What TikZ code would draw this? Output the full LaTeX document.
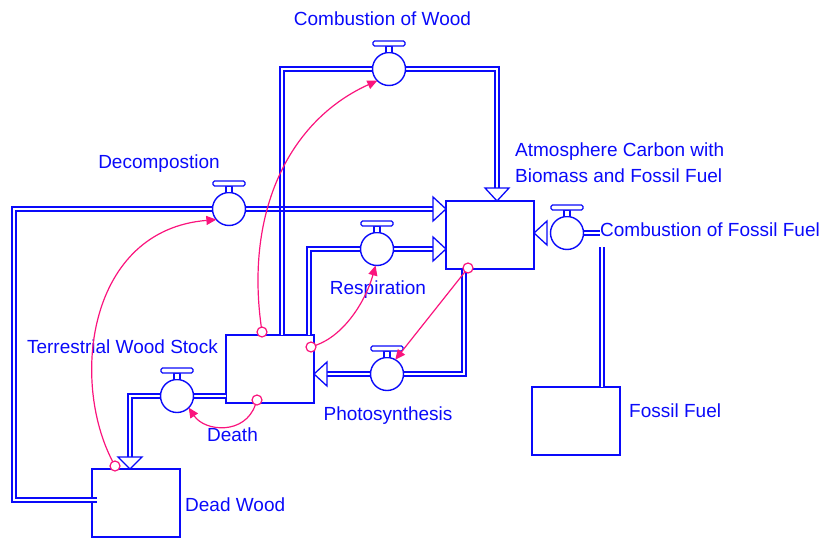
\documentclass[tikz,border=0pt]{standalone}
\usepackage{fontspec}
\setmainfont{Liberation Sans}
\usetikzlibrary{arrows.meta,calc}
\definecolor{vblue}{RGB}{10,10,250}
\definecolor{vpink}{RGB}{250,20,125}
\tikzset{
  stock/.style={draw=vblue, line width=1.6pt, rectangle, minimum width=88pt, minimum height=68pt, inner sep=0pt, outer sep=0pt},
  valvec/.style={draw=vblue, fill=white, line width=1.4pt, circle, minimum size=33pt, inner sep=0pt, outer sep=0pt},
  vpart/.style={draw=vblue, fill=white, line width=1.3pt},
  pipe/.style={draw=vblue, line width=1.6pt, double=white, double distance=2.4pt, line join=miter},
  thinpipe/.style={draw=vblue, line width=1.6pt},
  parrow/.style={draw=vblue, fill=white, line width=1.3pt, line join=miter},
  lbl/.style={text=vblue, font=\fontsize{19}{23}\selectfont, inner sep=0pt},
  info/.style={draw=vpink, line width=1.2pt, -{Triangle[length=10pt,width=9pt]}},
  infostart/.style={draw=vpink, fill=white, line width=1.2pt, circle, minimum size=10pt, inner sep=0pt, outer sep=0pt},
}
\newcommand{\mkvalve}[2]{%
  \node[valvec] (#1) at (#2) {};
  \draw[vpart] ($(#1)+(-3,-16.5)$) rectangle ($(#1)+(3,-23)$);
  \draw[vpart, rounded corners=1.5pt] ($(#1)+(-16,-23)$) rectangle ($(#1)+(16,-28)$);
}
\begin{document}
\begin{tikzpicture}[x=1pt,y=-1pt]
\useasboundingbox (0,0) rectangle (822,538);
% stocks
\node[stock] (tws) at (270,369) {};
\node[stock] (atm) at (490,235) {};
\node[stock] (ff)  at (576,421) {};
\node[stock] (dw)  at (136,503) {};
% helper coordinates
\coordinate (cwL) at (282,69);
\coordinate (cwR) at (497,69);
\coordinate (decL) at (14,209);
\coordinate (decB) at (14,500);
\coordinate (dwIn) at (97,500);
\coordinate (respL) at (309,249);
\coordinate (phR) at (464,374);
\coordinate (deL) at (130,396);
\coordinate (ffTop) at (602,247);
\coordinate (cffStub) at (600,233);
% pipes
\draw[pipe] (cwL |- tws.north) -- (cwL) -- (389,69);
\draw[pipe] (389,69) -- (cwR) -- ($(cwR |- atm.north)+(0,-13)$);
\draw[pipe] (dwIn) -- (decB) -- (decL) -- (229,209);
\draw[pipe] (229,209) -- ($(atm.west |- decL)+(-13,0)$);
\draw[pipe] (respL |- tws.north) -- (respL) -- (377,249);
\draw[pipe] (377,249) -- ($(atm.west |- respL)+(-13,0)$);
\draw[pipe] (phR |- atm.south) -- (phR) -- (387,374);
\draw[pipe] (387,374) -- ($(tws.east |- phR)+(13,0)$);
\draw[pipe] (tws.west |- deL) -- (177,396);
\draw[pipe] (177,396) -- (deL) -- ($(deL |- dw.north)+(0,-12)$);
\draw[pipe] (ffTop |- ff.north) -- (ffTop);
\draw[pipe] (567,233) -- (cffStub);
% crossing of the two pipes
\draw[thinpipe] (280,204) -- (280,214) (284,204) -- (284,214);
% valves
\mkvalve{vcw}{389,69}
\mkvalve{vdec}{229,209}
\mkvalve{vresp}{377,249}
\mkvalve{vph}{387,374}
\mkvalve{vde}{177,396}
\mkvalve{vcff}{567,233}
% pipe arrowheads
\draw[parrow] (cwR |- atm.north) -- ++(-12,-13) -- ++(24,0) -- cycle;
\draw[parrow] (atm.west |- decL) -- ++(-13,-12) -- ++(0,24) -- cycle;
\draw[parrow] (atm.west |- respL) -- ++(-13,-12) -- ++(0,24) -- cycle;
\draw[parrow] (tws.east |- phR) -- ++(13,-12) -- ++(0,24) -- cycle;
\draw[parrow] (deL |- dw.north) -- ++(-12,-12) -- ++(24,0) -- cycle;
\draw[parrow] (atm.east |- vcff) -- ++(13,-12) -- ++(0,24) -- cycle;
% labels
\node[lbl, anchor=base] (lcw) at (382.5,25) {Combustion of Wood};
\node[lbl, anchor=base west] (latm1) at (515,156) {Atmosphere Carbon with};
\node[lbl, anchor=base west] (latm2) at (515,182) {Biomass and Fossil Fuel};
\node[lbl, anchor=base west] (lcff) at (600,236) {Combustion of Fossil Fuel};
\node[lbl, anchor=base west] (lff) at (629,417) {Fossil Fuel};
\node[lbl, anchor=base] (ldec) at (159,168) {Decompostion};
\node[lbl, anchor=base east] (ltws) at (218,353) {Terrestrial Wood Stock};
\node[lbl, anchor=base] (lde) at (232.5,441) {Death};
\node[lbl, anchor=base] (lresp) at (378,294) {Respiration};
\node[lbl, anchor=base] (lph) at (388,420) {Photosynthesis};
\node[lbl, anchor=base west] (ldw) at (185,511) {Dead Wood};
% information links
\node[infostart] (s1) at (262,332) {};
\node[infostart] (s2) at (115,466) {};
\node[infostart] (s3) at (311,347) {};
\node[infostart] (s4) at (468,268) {};
\node[infostart] (s5) at (257,400) {};
\draw[info] (s1) .. controls (245,210) and (290,120) .. (vcw.225);
\draw[info] (s2) .. controls (70,380) and (88,230) .. (vdec.220);
\draw[info] (s3) .. controls (345,335) and (366,300) .. (vresp.265);
\draw[info] (s4) -- (vph.60);
\draw[info] (s5) .. controls (245,435) and (205,432) .. (vde.315);
\end{tikzpicture}
\end{document}
